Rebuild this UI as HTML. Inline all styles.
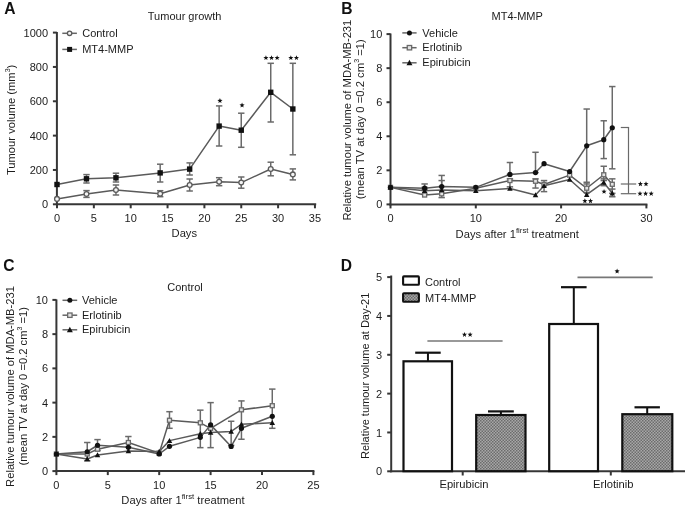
<!DOCTYPE html>
<html><head><meta charset="utf-8"><style>
html,body{margin:0;padding:0;background:#fff;}
svg{display:block;font-family:"Liberation Sans",sans-serif;filter:grayscale(100%);}
</style></head><body>
<svg width="685" height="507" viewBox="0 0 685 507">
<rect width="685" height="507" fill="#fff"/>
<text transform="translate(4.3,13.8) scale(0.92,1)" font-size="17" font-weight="bold" fill="#111">A</text>
<text x="184.6" y="19.6" font-size="11" text-anchor="middle" font-weight="normal" fill="#1c1c1c" >Tumour growth</text>
<line x1="56.90" y1="205.30" x2="56.90" y2="32.00" stroke="#363636" stroke-width="2" />
<line x1="52.90" y1="204.30" x2="56.90" y2="204.30" stroke="#363636" stroke-width="2" />
<text x="48.1" y="208.3" font-size="11" text-anchor="end" font-weight="normal" fill="#1c1c1c" >0</text>
<line x1="52.90" y1="169.96" x2="56.90" y2="169.96" stroke="#363636" stroke-width="2" />
<text x="48.1" y="174.0" font-size="11" text-anchor="end" font-weight="normal" fill="#1c1c1c" >200</text>
<line x1="52.90" y1="135.62" x2="56.90" y2="135.62" stroke="#363636" stroke-width="2" />
<text x="48.1" y="139.6" font-size="11" text-anchor="end" font-weight="normal" fill="#1c1c1c" >400</text>
<line x1="52.90" y1="101.28" x2="56.90" y2="101.28" stroke="#363636" stroke-width="2" />
<text x="48.1" y="105.3" font-size="11" text-anchor="end" font-weight="normal" fill="#1c1c1c" >600</text>
<line x1="52.90" y1="66.94" x2="56.90" y2="66.94" stroke="#363636" stroke-width="2" />
<text x="48.1" y="70.9" font-size="11" text-anchor="end" font-weight="normal" fill="#1c1c1c" >800</text>
<line x1="52.90" y1="32.60" x2="56.90" y2="32.60" stroke="#363636" stroke-width="2" />
<text x="48.1" y="36.6" font-size="11" text-anchor="end" font-weight="normal" fill="#1c1c1c" >1000</text>
<line x1="55.90" y1="204.30" x2="316.20" y2="204.30" stroke="#363636" stroke-width="2" />
<line x1="57.00" y1="204.30" x2="57.00" y2="208.30" stroke="#363636" stroke-width="2" />
<text x="57.0" y="221.6" font-size="11" text-anchor="middle" font-weight="normal" fill="#1c1c1c" >0</text>
<line x1="93.85" y1="204.30" x2="93.85" y2="208.30" stroke="#363636" stroke-width="2" />
<text x="93.8" y="221.6" font-size="11" text-anchor="middle" font-weight="normal" fill="#1c1c1c" >5</text>
<line x1="130.70" y1="204.30" x2="130.70" y2="208.30" stroke="#363636" stroke-width="2" />
<text x="130.7" y="221.6" font-size="11" text-anchor="middle" font-weight="normal" fill="#1c1c1c" >10</text>
<line x1="167.55" y1="204.30" x2="167.55" y2="208.30" stroke="#363636" stroke-width="2" />
<text x="167.6" y="221.6" font-size="11" text-anchor="middle" font-weight="normal" fill="#1c1c1c" >15</text>
<line x1="204.40" y1="204.30" x2="204.40" y2="208.30" stroke="#363636" stroke-width="2" />
<text x="204.4" y="221.6" font-size="11" text-anchor="middle" font-weight="normal" fill="#1c1c1c" >20</text>
<line x1="241.25" y1="204.30" x2="241.25" y2="208.30" stroke="#363636" stroke-width="2" />
<text x="241.2" y="221.6" font-size="11" text-anchor="middle" font-weight="normal" fill="#1c1c1c" >25</text>
<line x1="278.10" y1="204.30" x2="278.10" y2="208.30" stroke="#363636" stroke-width="2" />
<text x="278.1" y="221.6" font-size="11" text-anchor="middle" font-weight="normal" fill="#1c1c1c" >30</text>
<line x1="314.95" y1="204.30" x2="314.95" y2="208.30" stroke="#363636" stroke-width="2" />
<text x="314.9" y="221.6" font-size="11" text-anchor="middle" font-weight="normal" fill="#1c1c1c" >35</text>
<text x="184.3" y="237.4" font-size="11.2" text-anchor="middle" font-weight="normal" fill="#1c1c1c" >Days</text>
<text transform="translate(14.6,119.9) rotate(-90)" font-size="11.2" text-anchor="middle" fill="#1c1c1c">Tumour volume (mm<tspan font-size="7" dy="-5">3</tspan><tspan dy="5">)</tspan></text>
<line x1="86.48" y1="190.60" x2="86.48" y2="197.40" stroke="#6a6a6a" stroke-width="1.5" />
<line x1="83.28" y1="190.60" x2="89.68" y2="190.60" stroke="#6a6a6a" stroke-width="1.5" />
<line x1="83.28" y1="197.40" x2="89.68" y2="197.40" stroke="#6a6a6a" stroke-width="1.5" />
<line x1="115.96" y1="185.00" x2="115.96" y2="195.00" stroke="#6a6a6a" stroke-width="1.5" />
<line x1="112.76" y1="185.00" x2="119.16" y2="185.00" stroke="#6a6a6a" stroke-width="1.5" />
<line x1="112.76" y1="195.00" x2="119.16" y2="195.00" stroke="#6a6a6a" stroke-width="1.5" />
<line x1="160.18" y1="190.70" x2="160.18" y2="196.70" stroke="#6a6a6a" stroke-width="1.5" />
<line x1="156.98" y1="190.70" x2="163.38" y2="190.70" stroke="#6a6a6a" stroke-width="1.5" />
<line x1="156.98" y1="196.70" x2="163.38" y2="196.70" stroke="#6a6a6a" stroke-width="1.5" />
<line x1="189.66" y1="179.00" x2="189.66" y2="191.00" stroke="#6a6a6a" stroke-width="1.5" />
<line x1="186.46" y1="179.00" x2="192.86" y2="179.00" stroke="#6a6a6a" stroke-width="1.5" />
<line x1="186.46" y1="191.00" x2="192.86" y2="191.00" stroke="#6a6a6a" stroke-width="1.5" />
<line x1="219.14" y1="177.70" x2="219.14" y2="185.70" stroke="#6a6a6a" stroke-width="1.5" />
<line x1="215.94" y1="177.70" x2="222.34" y2="177.70" stroke="#6a6a6a" stroke-width="1.5" />
<line x1="215.94" y1="185.70" x2="222.34" y2="185.70" stroke="#6a6a6a" stroke-width="1.5" />
<line x1="241.25" y1="177.00" x2="241.25" y2="188.20" stroke="#6a6a6a" stroke-width="1.5" />
<line x1="238.05" y1="177.00" x2="244.45" y2="177.00" stroke="#6a6a6a" stroke-width="1.5" />
<line x1="238.05" y1="188.20" x2="244.45" y2="188.20" stroke="#6a6a6a" stroke-width="1.5" />
<line x1="270.73" y1="162.20" x2="270.73" y2="175.80" stroke="#6a6a6a" stroke-width="1.5" />
<line x1="267.53" y1="162.20" x2="273.93" y2="162.20" stroke="#6a6a6a" stroke-width="1.5" />
<line x1="267.53" y1="175.80" x2="273.93" y2="175.80" stroke="#6a6a6a" stroke-width="1.5" />
<line x1="292.84" y1="168.90" x2="292.84" y2="179.90" stroke="#6a6a6a" stroke-width="1.5" />
<line x1="289.64" y1="168.90" x2="296.04" y2="168.90" stroke="#6a6a6a" stroke-width="1.5" />
<line x1="289.64" y1="179.90" x2="296.04" y2="179.90" stroke="#6a6a6a" stroke-width="1.5" />
<line x1="86.48" y1="174.60" x2="86.48" y2="183.00" stroke="#6a6a6a" stroke-width="1.5" />
<line x1="83.28" y1="174.60" x2="89.68" y2="174.60" stroke="#6a6a6a" stroke-width="1.5" />
<line x1="83.28" y1="183.00" x2="89.68" y2="183.00" stroke="#6a6a6a" stroke-width="1.5" />
<line x1="115.96" y1="173.20" x2="115.96" y2="182.00" stroke="#6a6a6a" stroke-width="1.5" />
<line x1="112.76" y1="173.20" x2="119.16" y2="173.20" stroke="#6a6a6a" stroke-width="1.5" />
<line x1="112.76" y1="182.00" x2="119.16" y2="182.00" stroke="#6a6a6a" stroke-width="1.5" />
<line x1="160.18" y1="164.20" x2="160.18" y2="182.00" stroke="#6a6a6a" stroke-width="1.5" />
<line x1="156.98" y1="164.20" x2="163.38" y2="164.20" stroke="#6a6a6a" stroke-width="1.5" />
<line x1="156.98" y1="182.00" x2="163.38" y2="182.00" stroke="#6a6a6a" stroke-width="1.5" />
<line x1="189.66" y1="162.90" x2="189.66" y2="175.00" stroke="#6a6a6a" stroke-width="1.5" />
<line x1="186.46" y1="162.90" x2="192.86" y2="162.90" stroke="#6a6a6a" stroke-width="1.5" />
<line x1="186.46" y1="175.00" x2="192.86" y2="175.00" stroke="#6a6a6a" stroke-width="1.5" />
<line x1="219.14" y1="105.90" x2="219.14" y2="146.00" stroke="#6a6a6a" stroke-width="1.5" />
<line x1="215.94" y1="105.90" x2="222.34" y2="105.90" stroke="#6a6a6a" stroke-width="1.5" />
<line x1="215.94" y1="146.00" x2="222.34" y2="146.00" stroke="#6a6a6a" stroke-width="1.5" />
<line x1="241.25" y1="113.20" x2="241.25" y2="147.30" stroke="#6a6a6a" stroke-width="1.5" />
<line x1="238.05" y1="113.20" x2="244.45" y2="113.20" stroke="#6a6a6a" stroke-width="1.5" />
<line x1="238.05" y1="147.30" x2="244.45" y2="147.30" stroke="#6a6a6a" stroke-width="1.5" />
<line x1="270.73" y1="63.30" x2="270.73" y2="122.00" stroke="#6a6a6a" stroke-width="1.5" />
<line x1="267.53" y1="63.30" x2="273.93" y2="63.30" stroke="#6a6a6a" stroke-width="1.5" />
<line x1="267.53" y1="122.00" x2="273.93" y2="122.00" stroke="#6a6a6a" stroke-width="1.5" />
<line x1="292.84" y1="63.30" x2="292.84" y2="154.80" stroke="#6a6a6a" stroke-width="1.5" />
<line x1="289.64" y1="63.30" x2="296.04" y2="63.30" stroke="#6a6a6a" stroke-width="1.5" />
<line x1="289.64" y1="154.80" x2="296.04" y2="154.80" stroke="#6a6a6a" stroke-width="1.5" />
<polyline points="57.00,198.90 86.48,194.00 115.96,190.00 160.18,193.70 189.66,185.00 219.14,181.70 241.25,182.60 270.73,169.00 292.84,174.40" fill="none" stroke="#5a5a5a" stroke-width="1.5" stroke-linejoin="round"/>
<polyline points="57.00,184.50 86.48,178.80 115.96,177.80 160.18,172.90 189.66,169.10 219.14,126.10 241.25,130.20 270.73,92.30 292.84,109.00" fill="none" stroke="#5a5a5a" stroke-width="1.5" stroke-linejoin="round"/>
<circle cx="57.00" cy="198.90" r="2.40" fill="#f4f4f4" stroke="#5a5a5a" stroke-width="1.3"/>
<circle cx="86.48" cy="194.00" r="2.40" fill="#f4f4f4" stroke="#5a5a5a" stroke-width="1.3"/>
<circle cx="115.96" cy="190.00" r="2.40" fill="#f4f4f4" stroke="#5a5a5a" stroke-width="1.3"/>
<circle cx="160.18" cy="193.70" r="2.40" fill="#f4f4f4" stroke="#5a5a5a" stroke-width="1.3"/>
<circle cx="189.66" cy="185.00" r="2.40" fill="#f4f4f4" stroke="#5a5a5a" stroke-width="1.3"/>
<circle cx="219.14" cy="181.70" r="2.40" fill="#f4f4f4" stroke="#5a5a5a" stroke-width="1.3"/>
<circle cx="241.25" cy="182.60" r="2.40" fill="#f4f4f4" stroke="#5a5a5a" stroke-width="1.3"/>
<circle cx="270.73" cy="169.00" r="2.40" fill="#f4f4f4" stroke="#5a5a5a" stroke-width="1.3"/>
<circle cx="292.84" cy="174.40" r="2.40" fill="#f4f4f4" stroke="#5a5a5a" stroke-width="1.3"/>
<rect x="54.30" y="181.80" width="5.4" height="5.4" fill="#111"/>
<rect x="83.78" y="176.10" width="5.4" height="5.4" fill="#111"/>
<rect x="113.26" y="175.10" width="5.4" height="5.4" fill="#111"/>
<rect x="157.48" y="170.20" width="5.4" height="5.4" fill="#111"/>
<rect x="186.96" y="166.40" width="5.4" height="5.4" fill="#111"/>
<rect x="216.44" y="123.40" width="5.4" height="5.4" fill="#111"/>
<rect x="238.55" y="127.50" width="5.4" height="5.4" fill="#111"/>
<rect x="268.03" y="89.60" width="5.4" height="5.4" fill="#111"/>
<rect x="290.14" y="106.30" width="5.4" height="5.4" fill="#111"/>
<polygon points="219.94,98.10 220.62,99.86 222.51,99.97 221.04,101.16 221.53,102.98 219.94,101.96 218.35,102.98 218.84,101.16 217.37,99.97 219.26,99.86" fill="#111"/>
<polygon points="242.05,102.60 242.73,104.36 244.62,104.47 243.15,105.66 243.64,107.48 242.05,106.46 240.46,107.48 240.95,105.66 239.48,104.47 241.37,104.36" fill="#111"/>
<polygon points="265.93,55.20 266.61,56.96 268.50,57.07 267.03,58.26 267.52,60.08 265.93,59.06 264.34,60.08 264.83,58.26 263.36,57.07 265.25,56.96" fill="#111"/>
<polygon points="271.53,55.20 272.21,56.96 274.10,57.07 272.63,58.26 273.12,60.08 271.53,59.06 269.94,60.08 270.43,58.26 268.96,57.07 270.85,56.96" fill="#111"/>
<polygon points="277.13,55.20 277.81,56.96 279.70,57.07 278.23,58.26 278.72,60.08 277.13,59.06 275.54,60.08 276.03,58.26 274.56,57.07 276.45,56.96" fill="#111"/>
<polygon points="290.84,55.20 291.52,56.96 293.41,57.07 291.94,58.26 292.43,60.08 290.84,59.06 289.25,60.08 289.74,58.26 288.27,57.07 290.16,56.96" fill="#111"/>
<polygon points="296.44,55.20 297.12,56.96 299.01,57.07 297.54,58.26 298.03,60.08 296.44,59.06 294.85,60.08 295.34,58.26 293.87,57.07 295.76,56.96" fill="#111"/>
<line x1="62.30" y1="33.30" x2="76.90" y2="33.30" stroke="#666" stroke-width="1.5" />
<circle cx="69.60" cy="33.30" r="2.20" fill="#f4f4f4" stroke="#5a5a5a" stroke-width="1.3"/>
<text x="82.2" y="37.3" font-size="11" text-anchor="start" font-weight="normal" fill="#1c1c1c" >Control</text>
<line x1="62.30" y1="49.40" x2="76.90" y2="49.40" stroke="#666" stroke-width="1.5" />
<rect x="67.10" y="46.90" width="5.0" height="5.0" fill="#111"/>
<text x="82.2" y="53.4" font-size="11" text-anchor="start" font-weight="normal" fill="#1c1c1c" >MT4-MMP</text>
<text transform="translate(341.2,13.8) scale(0.92,1)" font-size="17" font-weight="bold" fill="#111">B</text>
<text x="491.5" y="19.8" font-size="11" text-anchor="start" font-weight="normal" fill="#1c1c1c" >MT4-MMP</text>
<line x1="390.50" y1="205.40" x2="390.50" y2="33.50" stroke="#363636" stroke-width="2" />
<line x1="386.50" y1="204.40" x2="390.50" y2="204.40" stroke="#363636" stroke-width="2" />
<text x="382.3" y="208.4" font-size="11" text-anchor="end" font-weight="normal" fill="#1c1c1c" >0</text>
<line x1="386.50" y1="170.34" x2="390.50" y2="170.34" stroke="#363636" stroke-width="2" />
<text x="382.3" y="174.3" font-size="11" text-anchor="end" font-weight="normal" fill="#1c1c1c" >2</text>
<line x1="386.50" y1="136.28" x2="390.50" y2="136.28" stroke="#363636" stroke-width="2" />
<text x="382.3" y="140.3" font-size="11" text-anchor="end" font-weight="normal" fill="#1c1c1c" >4</text>
<line x1="386.50" y1="102.22" x2="390.50" y2="102.22" stroke="#363636" stroke-width="2" />
<text x="382.3" y="106.2" font-size="11" text-anchor="end" font-weight="normal" fill="#1c1c1c" >6</text>
<line x1="386.50" y1="68.16" x2="390.50" y2="68.16" stroke="#363636" stroke-width="2" />
<text x="382.3" y="72.2" font-size="11" text-anchor="end" font-weight="normal" fill="#1c1c1c" >8</text>
<line x1="386.50" y1="34.10" x2="390.50" y2="34.10" stroke="#363636" stroke-width="2" />
<text x="382.3" y="38.1" font-size="11" text-anchor="end" font-weight="normal" fill="#1c1c1c" >10</text>
<line x1="389.50" y1="204.40" x2="647.40" y2="204.40" stroke="#363636" stroke-width="2" />
<line x1="390.50" y1="204.40" x2="390.50" y2="208.40" stroke="#363636" stroke-width="2" />
<text x="390.5" y="221.6" font-size="11" text-anchor="middle" font-weight="normal" fill="#1c1c1c" >0</text>
<line x1="475.80" y1="204.40" x2="475.80" y2="208.40" stroke="#363636" stroke-width="2" />
<text x="475.8" y="221.6" font-size="11" text-anchor="middle" font-weight="normal" fill="#1c1c1c" >10</text>
<line x1="561.10" y1="204.40" x2="561.10" y2="208.40" stroke="#363636" stroke-width="2" />
<text x="561.1" y="221.6" font-size="11" text-anchor="middle" font-weight="normal" fill="#1c1c1c" >20</text>
<line x1="646.40" y1="204.40" x2="646.40" y2="208.40" stroke="#363636" stroke-width="2" />
<text x="646.4" y="221.6" font-size="11" text-anchor="middle" font-weight="normal" fill="#1c1c1c" >30</text>
<text x="455.6" y="237.7" font-size="11.2" fill="#1c1c1c">Days after 1<tspan font-size="7.8" dy="-5">first</tspan><tspan dy="5"> treatment</tspan></text>
<text transform="translate(350.5,120.1) rotate(-90)" font-size="11.2" text-anchor="middle" fill="#1c1c1c">Relative tumour volume of MDA-MB-231</text>
<text transform="translate(363.5,119.2) rotate(-90)" font-size="11.3" text-anchor="middle" fill="#1c1c1c">(mean TV at day 0 =0.2 cm<tspan font-size="7" dy="-5">3</tspan><tspan dy="5"> =1)</tspan></text>
<line x1="424.62" y1="183.96" x2="424.62" y2="189.07" stroke="#6a6a6a" stroke-width="1.5" />
<line x1="421.42" y1="183.96" x2="427.82" y2="183.96" stroke="#6a6a6a" stroke-width="1.5" />
<line x1="421.42" y1="189.07" x2="427.82" y2="189.07" stroke="#6a6a6a" stroke-width="1.5" />
<line x1="441.68" y1="175.45" x2="441.68" y2="186.52" stroke="#6a6a6a" stroke-width="1.5" />
<line x1="438.48" y1="175.45" x2="444.88" y2="175.45" stroke="#6a6a6a" stroke-width="1.5" />
<line x1="438.48" y1="186.52" x2="444.88" y2="186.52" stroke="#6a6a6a" stroke-width="1.5" />
<line x1="509.92" y1="162.51" x2="509.92" y2="174.43" stroke="#6a6a6a" stroke-width="1.5" />
<line x1="506.72" y1="162.51" x2="513.12" y2="162.51" stroke="#6a6a6a" stroke-width="1.5" />
<line x1="506.72" y1="174.43" x2="513.12" y2="174.43" stroke="#6a6a6a" stroke-width="1.5" />
<line x1="535.51" y1="152.29" x2="535.51" y2="172.55" stroke="#6a6a6a" stroke-width="1.5" />
<line x1="532.31" y1="152.29" x2="538.71" y2="152.29" stroke="#6a6a6a" stroke-width="1.5" />
<line x1="532.31" y1="172.55" x2="538.71" y2="172.55" stroke="#6a6a6a" stroke-width="1.5" />
<line x1="586.69" y1="109.03" x2="586.69" y2="183.96" stroke="#6a6a6a" stroke-width="1.5" />
<line x1="583.49" y1="109.03" x2="589.89" y2="109.03" stroke="#6a6a6a" stroke-width="1.5" />
<line x1="583.49" y1="183.96" x2="589.89" y2="183.96" stroke="#6a6a6a" stroke-width="1.5" />
<line x1="603.75" y1="120.78" x2="603.75" y2="158.59" stroke="#6a6a6a" stroke-width="1.5" />
<line x1="600.55" y1="120.78" x2="606.95" y2="120.78" stroke="#6a6a6a" stroke-width="1.5" />
<line x1="600.55" y1="158.59" x2="606.95" y2="158.59" stroke="#6a6a6a" stroke-width="1.5" />
<line x1="612.28" y1="86.55" x2="612.28" y2="168.81" stroke="#6a6a6a" stroke-width="1.5" />
<line x1="609.08" y1="86.55" x2="615.48" y2="86.55" stroke="#6a6a6a" stroke-width="1.5" />
<line x1="609.08" y1="168.81" x2="615.48" y2="168.81" stroke="#6a6a6a" stroke-width="1.5" />
<line x1="441.68" y1="180.56" x2="441.68" y2="197.59" stroke="#6a6a6a" stroke-width="1.5" />
<line x1="438.48" y1="180.56" x2="444.88" y2="180.56" stroke="#6a6a6a" stroke-width="1.5" />
<line x1="438.48" y1="197.59" x2="444.88" y2="197.59" stroke="#6a6a6a" stroke-width="1.5" />
<line x1="509.92" y1="178.86" x2="509.92" y2="186.86" stroke="#6a6a6a" stroke-width="1.5" />
<line x1="506.72" y1="178.86" x2="513.12" y2="178.86" stroke="#6a6a6a" stroke-width="1.5" />
<line x1="506.72" y1="186.86" x2="513.12" y2="186.86" stroke="#6a6a6a" stroke-width="1.5" />
<line x1="535.51" y1="178.86" x2="535.51" y2="188.05" stroke="#6a6a6a" stroke-width="1.5" />
<line x1="532.31" y1="178.86" x2="538.71" y2="178.86" stroke="#6a6a6a" stroke-width="1.5" />
<line x1="532.31" y1="188.05" x2="538.71" y2="188.05" stroke="#6a6a6a" stroke-width="1.5" />
<line x1="544.04" y1="180.56" x2="544.04" y2="191.63" stroke="#6a6a6a" stroke-width="1.5" />
<line x1="540.84" y1="180.56" x2="547.24" y2="180.56" stroke="#6a6a6a" stroke-width="1.5" />
<line x1="540.84" y1="191.63" x2="547.24" y2="191.63" stroke="#6a6a6a" stroke-width="1.5" />
<line x1="586.69" y1="182.26" x2="586.69" y2="192.48" stroke="#6a6a6a" stroke-width="1.5" />
<line x1="583.49" y1="182.26" x2="589.89" y2="182.26" stroke="#6a6a6a" stroke-width="1.5" />
<line x1="583.49" y1="192.48" x2="589.89" y2="192.48" stroke="#6a6a6a" stroke-width="1.5" />
<line x1="603.75" y1="166.25" x2="603.75" y2="180.56" stroke="#6a6a6a" stroke-width="1.5" />
<line x1="600.55" y1="166.25" x2="606.95" y2="166.25" stroke="#6a6a6a" stroke-width="1.5" />
<line x1="600.55" y1="180.56" x2="606.95" y2="180.56" stroke="#6a6a6a" stroke-width="1.5" />
<line x1="612.28" y1="178.86" x2="612.28" y2="193.33" stroke="#6a6a6a" stroke-width="1.5" />
<line x1="609.08" y1="178.86" x2="615.48" y2="178.86" stroke="#6a6a6a" stroke-width="1.5" />
<line x1="609.08" y1="193.33" x2="615.48" y2="193.33" stroke="#6a6a6a" stroke-width="1.5" />
<line x1="424.62" y1="187.37" x2="424.62" y2="194.18" stroke="#6a6a6a" stroke-width="1.5" />
<line x1="421.42" y1="187.37" x2="427.82" y2="187.37" stroke="#6a6a6a" stroke-width="1.5" />
<line x1="421.42" y1="194.18" x2="427.82" y2="194.18" stroke="#6a6a6a" stroke-width="1.5" />
<line x1="603.75" y1="178.86" x2="603.75" y2="185.67" stroke="#6a6a6a" stroke-width="1.5" />
<line x1="600.55" y1="178.86" x2="606.95" y2="178.86" stroke="#6a6a6a" stroke-width="1.5" />
<line x1="600.55" y1="185.67" x2="606.95" y2="185.67" stroke="#6a6a6a" stroke-width="1.5" />
<line x1="612.28" y1="189.07" x2="612.28" y2="196.74" stroke="#6a6a6a" stroke-width="1.5" />
<line x1="609.08" y1="189.07" x2="615.48" y2="189.07" stroke="#6a6a6a" stroke-width="1.5" />
<line x1="609.08" y1="196.74" x2="615.48" y2="196.74" stroke="#6a6a6a" stroke-width="1.5" />
<polyline points="390.50,187.37 424.62,190.78 441.68,189.92 475.80,190.78 509.92,188.56 535.51,195.03 544.04,185.67 569.63,179.54 586.69,194.69 603.75,182.43 612.28,193.33" fill="none" stroke="#5a5a5a" stroke-width="1.5" stroke-linejoin="round"/>
<polyline points="390.50,187.37 424.62,195.03 441.68,193.84 475.80,188.22 509.92,180.56 535.51,181.24 544.04,184.47 569.63,175.11 586.69,188.22 603.75,174.77 612.28,184.30" fill="none" stroke="#5a5a5a" stroke-width="1.5" stroke-linejoin="round"/>
<polyline points="390.50,187.37 424.62,188.22 441.68,186.52 475.80,187.37 509.92,174.43 535.51,172.55 544.04,163.70 569.63,171.53 586.69,145.82 603.75,139.69 612.28,127.77" fill="none" stroke="#5a5a5a" stroke-width="1.5" stroke-linejoin="round"/>
<rect x="388.50" y="185.37" width="4.00" height="4.00" fill="#e4e4e4" stroke="#6a6a6a" stroke-width="1.3"/>
<rect x="422.62" y="193.03" width="4.00" height="4.00" fill="#e4e4e4" stroke="#6a6a6a" stroke-width="1.3"/>
<rect x="439.68" y="191.84" width="4.00" height="4.00" fill="#e4e4e4" stroke="#6a6a6a" stroke-width="1.3"/>
<rect x="473.80" y="186.22" width="4.00" height="4.00" fill="#e4e4e4" stroke="#6a6a6a" stroke-width="1.3"/>
<rect x="507.92" y="178.56" width="4.00" height="4.00" fill="#e4e4e4" stroke="#6a6a6a" stroke-width="1.3"/>
<rect x="533.51" y="179.24" width="4.00" height="4.00" fill="#e4e4e4" stroke="#6a6a6a" stroke-width="1.3"/>
<rect x="542.04" y="182.47" width="4.00" height="4.00" fill="#e4e4e4" stroke="#6a6a6a" stroke-width="1.3"/>
<rect x="567.63" y="173.11" width="4.00" height="4.00" fill="#e4e4e4" stroke="#6a6a6a" stroke-width="1.3"/>
<rect x="584.69" y="186.22" width="4.00" height="4.00" fill="#e4e4e4" stroke="#6a6a6a" stroke-width="1.3"/>
<rect x="601.75" y="172.77" width="4.00" height="4.00" fill="#e4e4e4" stroke="#6a6a6a" stroke-width="1.3"/>
<rect x="610.28" y="182.30" width="4.00" height="4.00" fill="#e4e4e4" stroke="#6a6a6a" stroke-width="1.3"/>
<path d="M390.50,184.62 L393.25,189.62 L387.75,189.62 Z" fill="#111"/>
<path d="M424.62,188.03 L427.37,193.03 L421.87,193.03 Z" fill="#111"/>
<path d="M441.68,187.17 L444.43,192.17 L438.93,192.17 Z" fill="#111"/>
<path d="M475.80,188.03 L478.55,193.03 L473.05,193.03 Z" fill="#111"/>
<path d="M509.92,185.81 L512.67,190.81 L507.17,190.81 Z" fill="#111"/>
<path d="M535.51,192.28 L538.26,197.28 L532.76,197.28 Z" fill="#111"/>
<path d="M544.04,182.92 L546.79,187.92 L541.29,187.92 Z" fill="#111"/>
<path d="M569.63,176.79 L572.38,181.79 L566.88,181.79 Z" fill="#111"/>
<path d="M586.69,191.94 L589.44,196.94 L583.94,196.94 Z" fill="#111"/>
<path d="M603.75,179.68 L606.50,184.68 L601.00,184.68 Z" fill="#111"/>
<path d="M612.28,190.58 L615.03,195.58 L609.53,195.58 Z" fill="#111"/>
<circle cx="390.50" cy="187.37" r="2.60" fill="#111"/>
<circle cx="424.62" cy="188.22" r="2.60" fill="#111"/>
<circle cx="441.68" cy="186.52" r="2.60" fill="#111"/>
<circle cx="475.80" cy="187.37" r="2.60" fill="#111"/>
<circle cx="509.92" cy="174.43" r="2.60" fill="#111"/>
<circle cx="535.51" cy="172.55" r="2.60" fill="#111"/>
<circle cx="544.04" cy="163.70" r="2.60" fill="#111"/>
<circle cx="569.63" cy="171.53" r="2.60" fill="#111"/>
<circle cx="586.69" cy="145.82" r="2.60" fill="#111"/>
<circle cx="603.75" cy="139.69" r="2.60" fill="#111"/>
<circle cx="612.28" cy="127.77" r="2.60" fill="#111"/>
<polygon points="584.89,198.30 585.57,200.06 587.46,200.17 585.99,201.36 586.48,203.18 584.89,202.16 583.30,203.18 583.79,201.36 582.32,200.17 584.21,200.06" fill="#111"/>
<polygon points="590.49,198.30 591.17,200.06 593.06,200.17 591.59,201.36 592.08,203.18 590.49,202.16 588.90,203.18 589.39,201.36 587.92,200.17 589.81,200.06" fill="#111"/>
<polygon points="604.05,188.90 604.73,190.66 606.62,190.77 605.15,191.96 605.64,193.78 604.05,192.76 602.46,193.78 602.95,191.96 601.48,190.77 603.37,190.66" fill="#111"/>
<line x1="628.50" y1="127.50" x2="628.50" y2="193.70" stroke="#6a6a6a" stroke-width="1.2" />
<line x1="620.80" y1="127.50" x2="629.10" y2="127.50" stroke="#6a6a6a" stroke-width="1.2" />
<line x1="620.80" y1="184.00" x2="636.20" y2="184.00" stroke="#6a6a6a" stroke-width="1.2" />
<line x1="620.80" y1="193.70" x2="636.20" y2="193.70" stroke="#6a6a6a" stroke-width="1.2" />
<polygon points="640.40,181.30 641.08,183.06 642.97,183.17 641.50,184.36 641.99,186.18 640.40,185.16 638.81,186.18 639.30,184.36 637.83,183.17 639.72,183.06" fill="#111"/>
<polygon points="646.00,181.30 646.68,183.06 648.57,183.17 647.10,184.36 647.59,186.18 646.00,185.16 644.41,186.18 644.90,184.36 643.43,183.17 645.32,183.06" fill="#111"/>
<polygon points="640.00,191.00 640.68,192.76 642.57,192.87 641.10,194.06 641.59,195.88 640.00,194.86 638.41,195.88 638.90,194.06 637.43,192.87 639.32,192.76" fill="#111"/>
<polygon points="645.60,191.00 646.28,192.76 648.17,192.87 646.70,194.06 647.19,195.88 645.60,194.86 644.01,195.88 644.50,194.06 643.03,192.87 644.92,192.76" fill="#111"/>
<polygon points="651.20,191.00 651.88,192.76 653.77,192.87 652.30,194.06 652.79,195.88 651.20,194.86 649.61,195.88 650.10,194.06 648.63,192.87 650.52,192.76" fill="#111"/>
<line x1="402.30" y1="32.90" x2="416.60" y2="32.90" stroke="#666" stroke-width="1.5" />
<circle cx="409.45" cy="32.90" r="2.50" fill="#111"/>
<text x="422.3" y="36.9" font-size="11" text-anchor="start" font-weight="normal" fill="#1c1c1c" >Vehicle</text>
<line x1="402.30" y1="47.70" x2="416.60" y2="47.70" stroke="#666" stroke-width="1.5" />
<rect x="407.25" y="45.50" width="4.40" height="4.40" fill="#e4e4e4" stroke="#6a6a6a" stroke-width="1.3"/>
<text x="422.3" y="51.1" font-size="11" text-anchor="start" font-weight="normal" fill="#1c1c1c" >Erlotinib</text>
<line x1="402.30" y1="62.80" x2="416.60" y2="62.80" stroke="#666" stroke-width="1.5" />
<path d="M409.45,59.83 L412.42,65.23 L406.48,65.23 Z" fill="#111"/>
<text x="422.3" y="65.9" font-size="11" text-anchor="start" font-weight="normal" fill="#1c1c1c" >Epirubicin</text>
<text transform="translate(3.3,270.8) scale(0.92,1)" font-size="17" font-weight="bold" fill="#111">C</text>
<text x="185.0" y="290.5" font-size="11" text-anchor="middle" font-weight="normal" fill="#1c1c1c" >Control</text>
<line x1="56.40" y1="472.10" x2="56.40" y2="299.40" stroke="#363636" stroke-width="2" />
<line x1="52.40" y1="471.10" x2="56.40" y2="471.10" stroke="#363636" stroke-width="2" />
<text x="48.0" y="475.1" font-size="11" text-anchor="end" font-weight="normal" fill="#1c1c1c" >0</text>
<line x1="52.40" y1="436.86" x2="56.40" y2="436.86" stroke="#363636" stroke-width="2" />
<text x="48.0" y="440.9" font-size="11" text-anchor="end" font-weight="normal" fill="#1c1c1c" >2</text>
<line x1="52.40" y1="402.62" x2="56.40" y2="402.62" stroke="#363636" stroke-width="2" />
<text x="48.0" y="406.6" font-size="11" text-anchor="end" font-weight="normal" fill="#1c1c1c" >4</text>
<line x1="52.40" y1="368.38" x2="56.40" y2="368.38" stroke="#363636" stroke-width="2" />
<text x="48.0" y="372.4" font-size="11" text-anchor="end" font-weight="normal" fill="#1c1c1c" >6</text>
<line x1="52.40" y1="334.14" x2="56.40" y2="334.14" stroke="#363636" stroke-width="2" />
<text x="48.0" y="338.1" font-size="11" text-anchor="end" font-weight="normal" fill="#1c1c1c" >8</text>
<line x1="52.40" y1="299.90" x2="56.40" y2="299.90" stroke="#363636" stroke-width="2" />
<text x="48.0" y="303.9" font-size="11" text-anchor="end" font-weight="normal" fill="#1c1c1c" >10</text>
<line x1="55.40" y1="471.10" x2="314.40" y2="471.10" stroke="#363636" stroke-width="2" />
<line x1="56.40" y1="471.10" x2="56.40" y2="475.10" stroke="#363636" stroke-width="2" />
<text x="56.4" y="488.6" font-size="11" text-anchor="middle" font-weight="normal" fill="#1c1c1c" >0</text>
<line x1="107.80" y1="471.10" x2="107.80" y2="475.10" stroke="#363636" stroke-width="2" />
<text x="107.8" y="488.6" font-size="11" text-anchor="middle" font-weight="normal" fill="#1c1c1c" >5</text>
<line x1="159.20" y1="471.10" x2="159.20" y2="475.10" stroke="#363636" stroke-width="2" />
<text x="159.2" y="488.6" font-size="11" text-anchor="middle" font-weight="normal" fill="#1c1c1c" >10</text>
<line x1="210.60" y1="471.10" x2="210.60" y2="475.10" stroke="#363636" stroke-width="2" />
<text x="210.6" y="488.6" font-size="11" text-anchor="middle" font-weight="normal" fill="#1c1c1c" >15</text>
<line x1="262.00" y1="471.10" x2="262.00" y2="475.10" stroke="#363636" stroke-width="2" />
<text x="262.0" y="488.6" font-size="11" text-anchor="middle" font-weight="normal" fill="#1c1c1c" >20</text>
<line x1="313.40" y1="471.10" x2="313.40" y2="475.10" stroke="#363636" stroke-width="2" />
<text x="313.4" y="488.6" font-size="11" text-anchor="middle" font-weight="normal" fill="#1c1c1c" >25</text>
<text x="183.0" y="503.9" font-size="11.2" text-anchor="middle" fill="#1c1c1c">Days after 1<tspan font-size="7.8" dy="-5">first</tspan><tspan dy="5"> treatment</tspan></text>
<text transform="translate(13.7,386.5) rotate(-90)" font-size="11.2" text-anchor="middle" fill="#1c1c1c">Relative tumour volume of MDA-MB-231</text>
<text transform="translate(27.1,386.25) rotate(-90)" font-size="11.2" text-anchor="middle" fill="#1c1c1c">(mean TV at day 0 =0.2 cm<tspan font-size="7" dy="-5">3</tspan><tspan dy="5"> =1)</tspan></text>
<line x1="87.24" y1="442.51" x2="87.24" y2="460.83" stroke="#6a6a6a" stroke-width="1.5" />
<line x1="84.04" y1="442.51" x2="90.44" y2="442.51" stroke="#6a6a6a" stroke-width="1.5" />
<line x1="84.04" y1="460.83" x2="90.44" y2="460.83" stroke="#6a6a6a" stroke-width="1.5" />
<line x1="97.52" y1="439.60" x2="97.52" y2="450.56" stroke="#6a6a6a" stroke-width="1.5" />
<line x1="94.32" y1="439.60" x2="100.72" y2="439.60" stroke="#6a6a6a" stroke-width="1.5" />
<line x1="94.32" y1="450.56" x2="100.72" y2="450.56" stroke="#6a6a6a" stroke-width="1.5" />
<line x1="128.36" y1="436.52" x2="128.36" y2="447.13" stroke="#6a6a6a" stroke-width="1.5" />
<line x1="125.16" y1="436.52" x2="131.56" y2="436.52" stroke="#6a6a6a" stroke-width="1.5" />
<line x1="125.16" y1="447.13" x2="131.56" y2="447.13" stroke="#6a6a6a" stroke-width="1.5" />
<line x1="169.48" y1="411.69" x2="169.48" y2="428.30" stroke="#6a6a6a" stroke-width="1.5" />
<line x1="166.28" y1="411.69" x2="172.68" y2="411.69" stroke="#6a6a6a" stroke-width="1.5" />
<line x1="166.28" y1="428.30" x2="172.68" y2="428.30" stroke="#6a6a6a" stroke-width="1.5" />
<line x1="200.32" y1="410.15" x2="200.32" y2="447.65" stroke="#6a6a6a" stroke-width="1.5" />
<line x1="197.12" y1="410.15" x2="203.52" y2="410.15" stroke="#6a6a6a" stroke-width="1.5" />
<line x1="197.12" y1="447.65" x2="203.52" y2="447.65" stroke="#6a6a6a" stroke-width="1.5" />
<line x1="210.60" y1="402.62" x2="210.60" y2="447.65" stroke="#6a6a6a" stroke-width="1.5" />
<line x1="207.40" y1="402.62" x2="213.80" y2="402.62" stroke="#6a6a6a" stroke-width="1.5" />
<line x1="207.40" y1="447.65" x2="213.80" y2="447.65" stroke="#6a6a6a" stroke-width="1.5" />
<line x1="231.16" y1="421.28" x2="231.16" y2="445.42" stroke="#6a6a6a" stroke-width="1.5" />
<line x1="227.96" y1="421.28" x2="234.36" y2="421.28" stroke="#6a6a6a" stroke-width="1.5" />
<line x1="227.96" y1="445.42" x2="234.36" y2="445.42" stroke="#6a6a6a" stroke-width="1.5" />
<line x1="241.44" y1="400.91" x2="241.44" y2="439.26" stroke="#6a6a6a" stroke-width="1.5" />
<line x1="238.24" y1="400.91" x2="244.64" y2="400.91" stroke="#6a6a6a" stroke-width="1.5" />
<line x1="238.24" y1="439.26" x2="244.64" y2="439.26" stroke="#6a6a6a" stroke-width="1.5" />
<line x1="272.28" y1="389.10" x2="272.28" y2="428.30" stroke="#6a6a6a" stroke-width="1.5" />
<line x1="269.08" y1="389.10" x2="275.48" y2="389.10" stroke="#6a6a6a" stroke-width="1.5" />
<line x1="269.08" y1="428.30" x2="275.48" y2="428.30" stroke="#6a6a6a" stroke-width="1.5" />
<polyline points="56.40,453.98 87.24,458.94 97.52,455.01 128.36,450.90 159.20,451.41 169.48,440.63 200.32,433.78 210.60,432.41 231.16,431.38 241.44,424.36 272.28,422.65" fill="none" stroke="#5a5a5a" stroke-width="1.5" stroke-linejoin="round"/>
<polyline points="56.40,453.98 87.24,453.98 97.52,449.19 128.36,442.51 159.20,453.12 169.48,420.25 200.32,422.82 210.60,428.30 241.44,409.81 272.28,405.70" fill="none" stroke="#5a5a5a" stroke-width="1.5" stroke-linejoin="round"/>
<polyline points="56.40,453.98 87.24,451.75 97.52,445.25 128.36,447.30 159.20,453.98 169.48,446.28 200.32,437.37 210.60,424.88 231.16,446.45 241.44,428.30 272.28,416.32" fill="none" stroke="#5a5a5a" stroke-width="1.5" stroke-linejoin="round"/>
<rect x="54.40" y="451.98" width="4.00" height="4.00" fill="#e4e4e4" stroke="#6a6a6a" stroke-width="1.3"/>
<rect x="85.24" y="451.98" width="4.00" height="4.00" fill="#e4e4e4" stroke="#6a6a6a" stroke-width="1.3"/>
<rect x="95.52" y="447.19" width="4.00" height="4.00" fill="#e4e4e4" stroke="#6a6a6a" stroke-width="1.3"/>
<rect x="126.36" y="440.51" width="4.00" height="4.00" fill="#e4e4e4" stroke="#6a6a6a" stroke-width="1.3"/>
<rect x="157.20" y="451.12" width="4.00" height="4.00" fill="#e4e4e4" stroke="#6a6a6a" stroke-width="1.3"/>
<rect x="167.48" y="418.25" width="4.00" height="4.00" fill="#e4e4e4" stroke="#6a6a6a" stroke-width="1.3"/>
<rect x="198.32" y="420.82" width="4.00" height="4.00" fill="#e4e4e4" stroke="#6a6a6a" stroke-width="1.3"/>
<rect x="208.60" y="426.30" width="4.00" height="4.00" fill="#e4e4e4" stroke="#6a6a6a" stroke-width="1.3"/>
<rect x="239.44" y="407.81" width="4.00" height="4.00" fill="#e4e4e4" stroke="#6a6a6a" stroke-width="1.3"/>
<rect x="270.28" y="403.70" width="4.00" height="4.00" fill="#e4e4e4" stroke="#6a6a6a" stroke-width="1.3"/>
<path d="M56.40,451.23 L59.15,456.23 L53.65,456.23 Z" fill="#111"/>
<path d="M87.24,456.19 L89.99,461.19 L84.49,461.19 Z" fill="#111"/>
<path d="M97.52,452.26 L100.27,457.26 L94.77,457.26 Z" fill="#111"/>
<path d="M128.36,448.15 L131.11,453.15 L125.61,453.15 Z" fill="#111"/>
<path d="M159.20,448.66 L161.95,453.66 L156.45,453.66 Z" fill="#111"/>
<path d="M169.48,437.88 L172.23,442.88 L166.73,442.88 Z" fill="#111"/>
<path d="M200.32,431.03 L203.07,436.03 L197.57,436.03 Z" fill="#111"/>
<path d="M210.60,429.66 L213.35,434.66 L207.85,434.66 Z" fill="#111"/>
<path d="M231.16,428.63 L233.91,433.63 L228.41,433.63 Z" fill="#111"/>
<path d="M241.44,421.61 L244.19,426.61 L238.69,426.61 Z" fill="#111"/>
<path d="M272.28,419.90 L275.03,424.90 L269.53,424.90 Z" fill="#111"/>
<circle cx="56.40" cy="453.98" r="2.60" fill="#111"/>
<circle cx="87.24" cy="451.75" r="2.60" fill="#111"/>
<circle cx="97.52" cy="445.25" r="2.60" fill="#111"/>
<circle cx="128.36" cy="447.30" r="2.60" fill="#111"/>
<circle cx="159.20" cy="453.98" r="2.60" fill="#111"/>
<circle cx="169.48" cy="446.28" r="2.60" fill="#111"/>
<circle cx="200.32" cy="437.37" r="2.60" fill="#111"/>
<circle cx="210.60" cy="424.88" r="2.60" fill="#111"/>
<circle cx="231.16" cy="446.45" r="2.60" fill="#111"/>
<circle cx="241.44" cy="428.30" r="2.60" fill="#111"/>
<circle cx="272.28" cy="416.32" r="2.60" fill="#111"/>
<line x1="62.50" y1="300.30" x2="77.20" y2="300.30" stroke="#666" stroke-width="1.5" />
<circle cx="69.85" cy="300.30" r="2.50" fill="#111"/>
<text x="82.0" y="304.3" font-size="11" text-anchor="start" font-weight="normal" fill="#1c1c1c" >Vehicle</text>
<line x1="62.50" y1="315.20" x2="77.20" y2="315.20" stroke="#666" stroke-width="1.5" />
<rect x="67.65" y="313.00" width="4.40" height="4.40" fill="#e4e4e4" stroke="#6a6a6a" stroke-width="1.3"/>
<text x="82.0" y="318.8" font-size="11" text-anchor="start" font-weight="normal" fill="#1c1c1c" >Erlotinib</text>
<line x1="62.50" y1="329.80" x2="77.20" y2="329.80" stroke="#666" stroke-width="1.5" />
<path d="M69.85,326.83 L72.82,332.23 L66.88,332.23 Z" fill="#111"/>
<text x="82.0" y="333.1" font-size="11" text-anchor="start" font-weight="normal" fill="#1c1c1c" >Epirubicin</text>
<text transform="translate(340.7,270.9) scale(0.92,1)" font-size="17" font-weight="bold" fill="#111">D</text>
<line x1="391.20" y1="472.30" x2="391.20" y2="275.50" stroke="#363636" stroke-width="2" />
<line x1="387.20" y1="471.30" x2="391.20" y2="471.30" stroke="#363636" stroke-width="2" />
<text x="382.0" y="475.3" font-size="11" text-anchor="end" font-weight="normal" fill="#1c1c1c" >0</text>
<line x1="387.20" y1="432.46" x2="391.20" y2="432.46" stroke="#363636" stroke-width="2" />
<text x="382.0" y="436.5" font-size="11" text-anchor="end" font-weight="normal" fill="#1c1c1c" >1</text>
<line x1="387.20" y1="393.62" x2="391.20" y2="393.62" stroke="#363636" stroke-width="2" />
<text x="382.0" y="397.6" font-size="11" text-anchor="end" font-weight="normal" fill="#1c1c1c" >2</text>
<line x1="387.20" y1="354.78" x2="391.20" y2="354.78" stroke="#363636" stroke-width="2" />
<text x="382.0" y="358.8" font-size="11" text-anchor="end" font-weight="normal" fill="#1c1c1c" >3</text>
<line x1="387.20" y1="315.94" x2="391.20" y2="315.94" stroke="#363636" stroke-width="2" />
<text x="382.0" y="319.9" font-size="11" text-anchor="end" font-weight="normal" fill="#1c1c1c" >4</text>
<line x1="387.20" y1="277.10" x2="391.20" y2="277.10" stroke="#363636" stroke-width="2" />
<text x="382.0" y="281.1" font-size="11" text-anchor="end" font-weight="normal" fill="#1c1c1c" >5</text>
<line x1="390.20" y1="471.30" x2="685.00" y2="471.30" stroke="#363636" stroke-width="2" />
<line x1="462.70" y1="471.20" x2="462.70" y2="475.50" stroke="#363636" stroke-width="2" />
<line x1="610.80" y1="471.20" x2="610.80" y2="475.50" stroke="#363636" stroke-width="2" />
<text x="464.0" y="488.3" font-size="11.2" text-anchor="middle" font-weight="normal" fill="#1c1c1c" >Epirubicin</text>
<text x="613.2" y="488.3" font-size="11.2" text-anchor="middle" font-weight="normal" fill="#1c1c1c" >Erlotinib</text>
<text transform="translate(368.8,375.8) rotate(-90)" font-size="11" text-anchor="middle" fill="#1c1c1c">Relative tumour volume at Day-21</text>
<defs><pattern id="chk" width="3" height="3" patternUnits="userSpaceOnUse"><rect width="3" height="3" fill="#a8a8a8"/><rect width="1.5" height="1.5" fill="#6c6c6c"/><rect x="1.5" y="1.5" width="1.5" height="1.5" fill="#6c6c6c"/></pattern></defs>
<line x1="427.95" y1="352.70" x2="427.95" y2="361.30" stroke="#111" stroke-width="2" />
<line x1="415.20" y1="352.70" x2="440.70" y2="352.70" stroke="#111" stroke-width="2.2" />
<rect x="403.50" y="361.30" width="48.50" height="109.90" fill="#fff" stroke="#111" stroke-width="2.2"/>
<line x1="500.90" y1="411.40" x2="500.90" y2="415.00" stroke="#111" stroke-width="2" />
<line x1="488.00" y1="411.40" x2="513.80" y2="411.40" stroke="#111" stroke-width="2.2" />
<rect x="476.20" y="415.00" width="49.30" height="56.20" fill="url(#chk)" stroke="#111" stroke-width="2.2"/>
<line x1="573.80" y1="287.20" x2="573.80" y2="324.00" stroke="#111" stroke-width="2" />
<line x1="561.00" y1="287.20" x2="586.60" y2="287.20" stroke="#111" stroke-width="2.2" />
<rect x="549.20" y="324.00" width="48.80" height="147.20" fill="#fff" stroke="#111" stroke-width="2.2"/>
<line x1="647.20" y1="407.30" x2="647.20" y2="414.20" stroke="#111" stroke-width="2" />
<line x1="634.50" y1="407.30" x2="659.90" y2="407.30" stroke="#111" stroke-width="2.2" />
<rect x="622.30" y="414.20" width="50.00" height="57.00" fill="url(#chk)" stroke="#111" stroke-width="2.2"/>
<line x1="427.40" y1="341.00" x2="502.60" y2="341.00" stroke="#777" stroke-width="1.6" />
<polygon points="464.50,332.00 465.18,333.76 467.07,333.87 465.60,335.06 466.09,336.88 464.50,335.86 462.91,336.88 463.40,335.06 461.93,333.87 463.82,333.76" fill="#111"/>
<polygon points="470.10,332.00 470.78,333.76 472.67,333.87 471.20,335.06 471.69,336.88 470.10,335.86 468.51,336.88 469.00,335.06 467.53,333.87 469.42,333.76" fill="#111"/>
<line x1="577.50" y1="277.40" x2="652.70" y2="277.40" stroke="#777" stroke-width="1.6" />
<polygon points="617.10,268.60 617.78,270.36 619.67,270.47 618.20,271.66 618.69,273.48 617.10,272.46 615.51,273.48 616.00,271.66 614.53,270.47 616.42,270.36" fill="#111"/>
<rect x="403.1" y="276.4" width="15.8" height="8.4" rx="0.8" fill="#fff" stroke="#111" stroke-width="2.1"/>
<rect x="403.1" y="293.3" width="15.8" height="8.4" rx="0.8" fill="url(#chk)" stroke="#111" stroke-width="2.1"/>
<text x="425.0" y="285.6" font-size="11" text-anchor="start" font-weight="normal" fill="#1c1c1c" >Control</text>
<text x="425.0" y="302.0" font-size="11" text-anchor="start" font-weight="normal" fill="#1c1c1c" >MT4-MMP</text>
</svg>
</body></html>
